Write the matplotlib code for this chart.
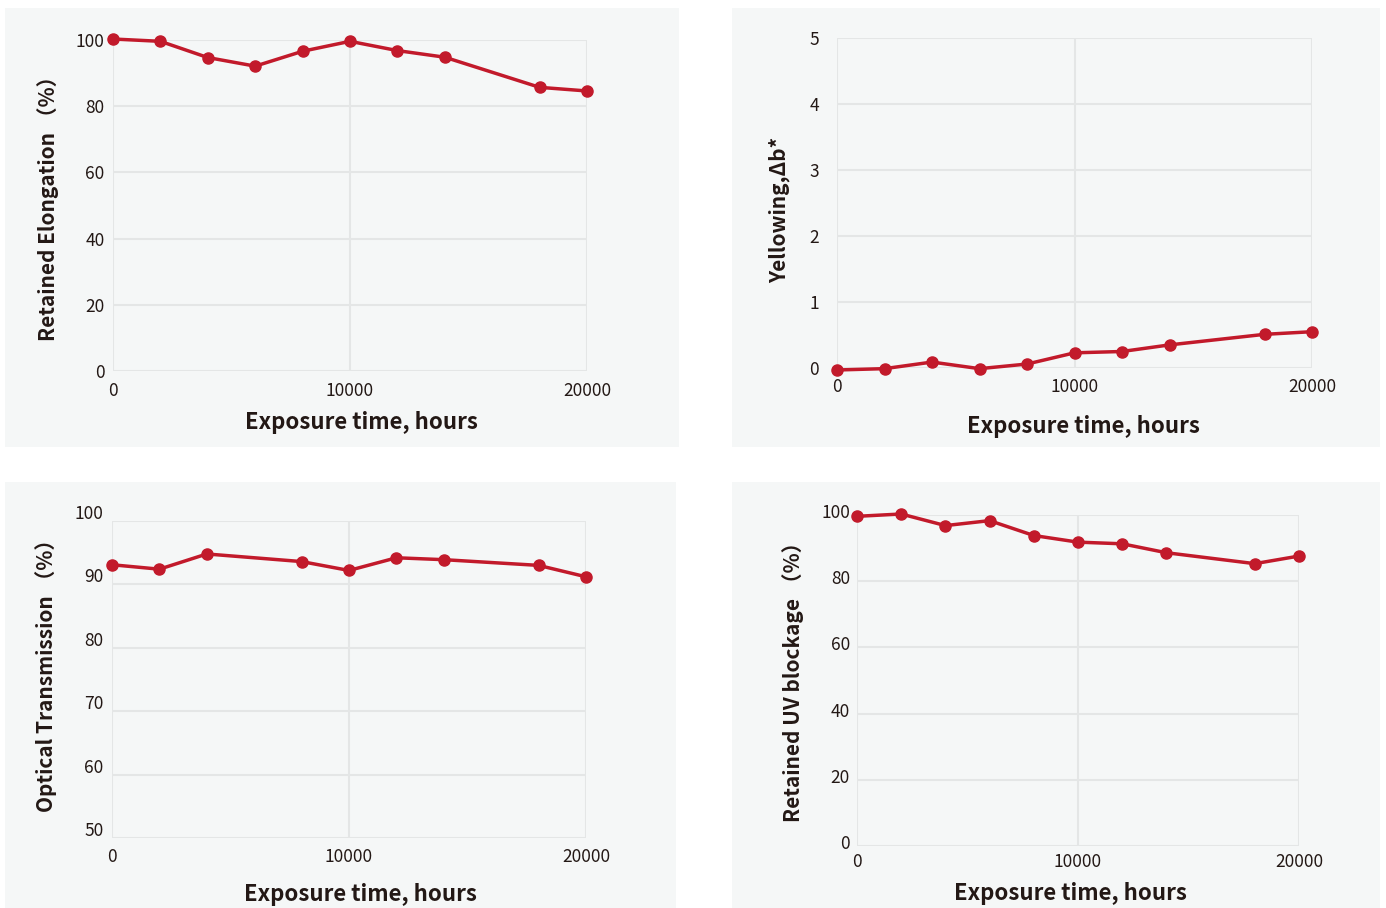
import matplotlib.pyplot as plt
from matplotlib.patches import Rectangle
from matplotlib.transforms import ScaledTranslation

plt.rcParams['font.family'] = ['Noto Sans CJK JP', 'DejaVu Sans']

# data
hours = [0, 2000, 4000, 6000, 8000, 10000, 12000, 14000, 18000, 20000]
hours_opt = [0, 2000, 4000, 8000, 10000, 12000, 14000, 18000, 20000]
elongation = [100.3, 99.6, 94.7, 92.1, 96.6, 99.6, 96.8, 94.8, 85.7, 84.6]
yellowing = [-0.03, -0.01, 0.09, -0.01, 0.06, 0.23, 0.25, 0.35, 0.51, 0.55]
transmission = [93.1, 92.4, 94.8, 93.6, 92.2, 94.2, 93.9, 93.0, 91.2]
uv_block = [99.6, 100.3, 96.8, 98.3, 93.8, 91.8, 91.3, 88.6, 85.3, 87.6]

xticks = [0, 10000, 20000]
W, H = 1386, 908
red = '#c21a2b'
txt = '#231815'
bg = '#f5f7f7'
grid = '#e4e6e6'

fig = plt.figure(figsize=(W / 100, H / 100), dpi=100)
fig.patch.set_facecolor('white')

# gray panel backgrounds (pixel boxes: left, top, right, bottom)
for l, t, r, b in [(5, 8, 679, 447), (732, 8, 1380, 447),
                   (5, 482, 676, 908), (732, 482, 1380, 908)]:
    fig.patches.append(Rectangle((l / W, 1 - b / H), (r - l) / W, (b - t) / H,
                                 transform=fig.transFigure, facecolor=bg,
                                 edgecolor='none', zorder=-5))


def panel(box, x, y, ylim, yticks, ylabel, ylab_xy, xlab_xy, xpad, ypad, yshift=0):
    l, t, r, b = box
    ax = fig.add_axes([l / W, 1 - b / H, (r - l) / W, (b - t) / H])
    ax.set_zorder(2)
    ax.set_facecolor('none')
    ax.plot(x, y, color=red, lw=2.5, marker='o', ms=8, clip_on=False, zorder=3)
    ax.set_xlim(0, 20000)
    ax.set_ylim(*ylim)
    ax.set_xticks(xticks)
    ax.set_yticks(yticks)
    ax.grid(True, color=grid, lw=1.5)
    for s in ax.spines.values():
        s.set_visible(False)
    ax.tick_params(length=0, labelsize=12.5, labelcolor=txt)
    ax.tick_params(axis='x', pad=xpad)
    ax.tick_params(axis='y', pad=ypad)
    if yshift:
        off = ScaledTranslation(0, yshift / 100, fig.dpi_scale_trans)
        for lab in ax.get_yticklabels():
            lab.set_transform(lab.get_transform() + off)
    ax.set_ylabel(ylabel, fontsize=15, fontweight='bold', color=txt, va='center')
    ax.yaxis.set_label_coords(*ylab_xy)
    ax.set_xlabel('Exposure time, hours', fontsize=16, fontweight='bold',
                  color=txt, va='center')
    ax.xaxis.set_label_coords(*xlab_xy)
    return ax


panel((113, 40, 587, 371), hours, elongation, (0, 100), [0, 20, 40, 60, 80, 100],
      'Retained Elongation （%）', (-0.137, 0.506), (0.525, -0.157), 8, 6)
panel((837, 38, 1312, 368), hours, yellowing, (0, 5), [0, 1, 2, 3, 4, 5],
      'Yellowing,Δb*', (-0.122, 0.479), (0.518, -0.176), 7, 13)
panel((112, 521, 586, 838), hours_opt, transmission, (50, 100), [50, 60, 70, 80, 90, 100],
      'Optical Transmission （%）', (-0.139, 0.530), (0.525, -0.177), 7, 6, yshift=9)
panel((857, 515, 1299, 846), hours, uv_block, (0, 100), [0, 20, 40, 60, 80, 100],
      'Retained UV blockage （%）', (-0.145, 0.510), (0.482, -0.145), 5, 5, yshift=4)

fig.savefig('out.png', dpi=100)
